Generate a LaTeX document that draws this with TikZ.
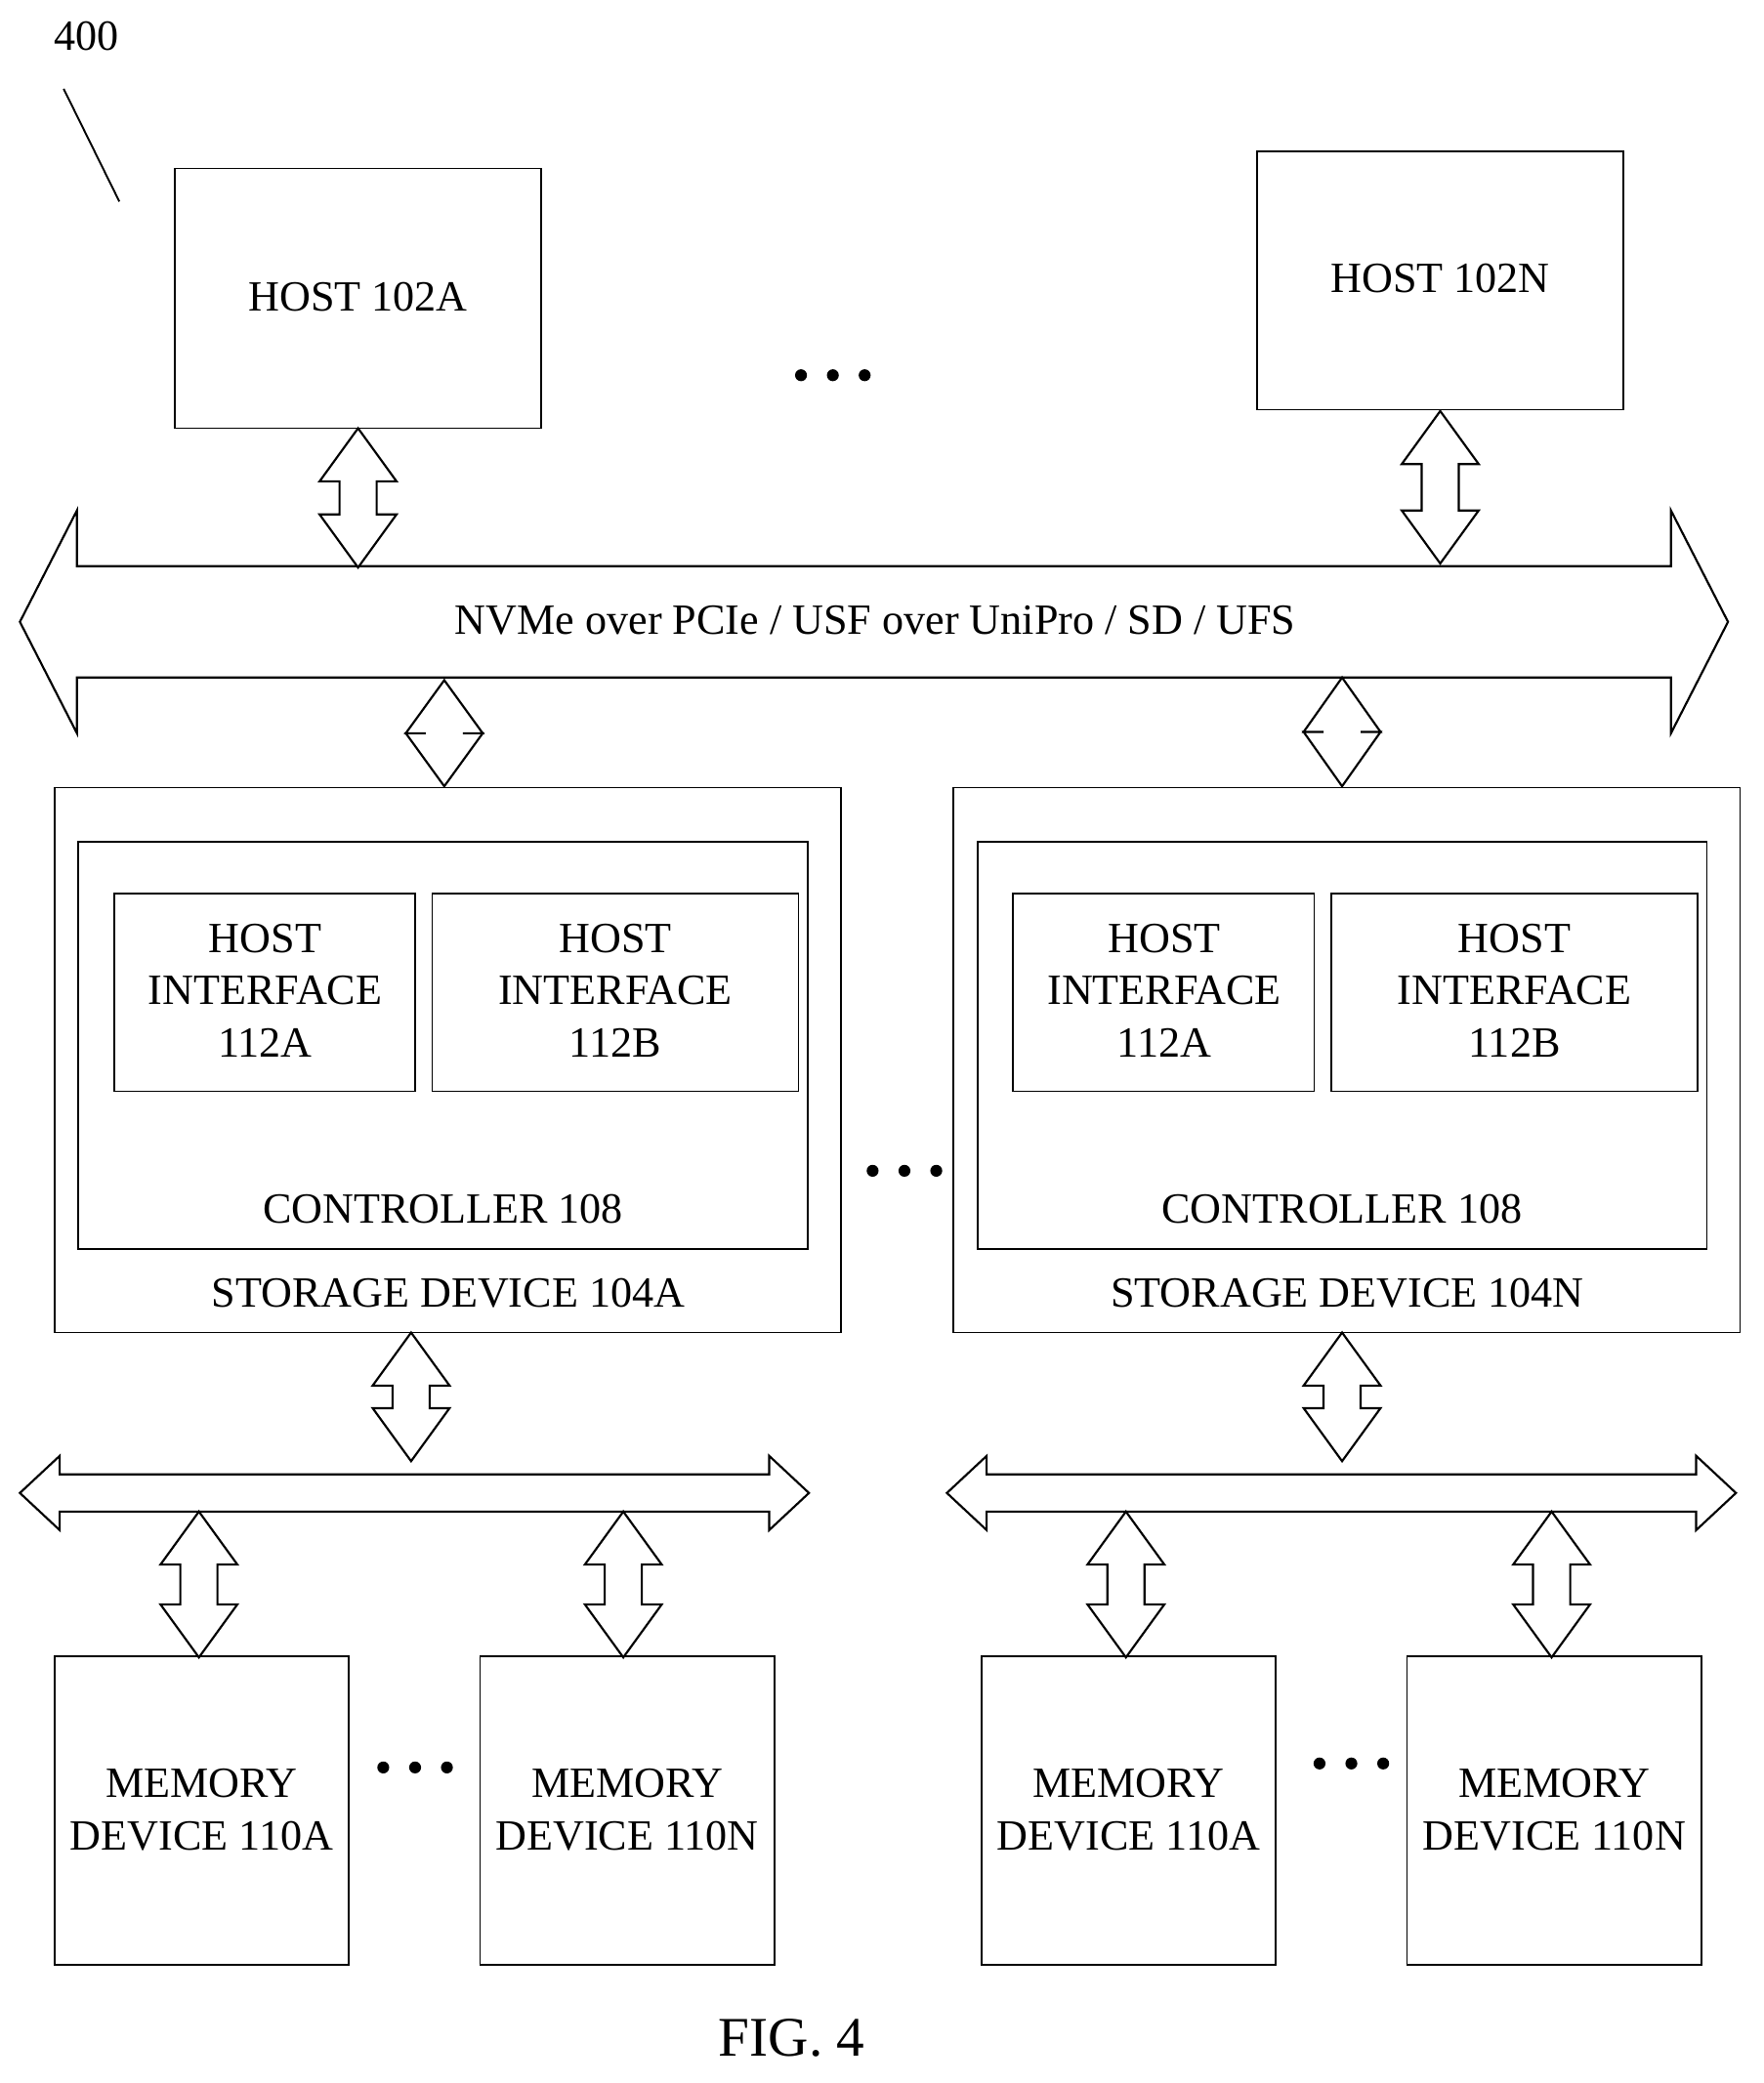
\documentclass[tikz,border=0pt]{standalone}
\usepackage{fontspec}
\setmainfont{Liberation Serif}
\usetikzlibrary{calc}
% vertical double arrow: x, top, bottom, head length
\newcommand\vdarrow[4]{%
  \draw[arrowline] (#1,#2) -- ++(29,#4) -- ++(-15,0) -- (#1+14,#3-#4) -- ++(15,0)
    -- (#1,#3) -- ++(-29,-#4) -- ++(15,0) -- (#1-14,#2+#4) -- ++(-15,0) -- cycle;}
% horizontal double arrow: left, right, centre y, half head, half stem, head length
\newcommand\hdarrow[6]{%
  \draw[arrowline] (#1,#3) -- (#1+#6,#3-#4) -- (#1+#6,#3-#5) -- (#2-#6,#3-#5)
    -- (#2-#6,#3-#4) -- (#2,#3) -- (#2-#6,#3+#4) -- (#2-#6,#3+#5)
    -- (#1+#6,#3+#5) -- (#1+#6,#3+#4) -- cycle;}
% three bold dots centred at x, y
\newcommand\threedots[2]{%
  \foreach \k in {-1,0,1}{\fill (#1+\k*24,#2) circle (4.5);}}
\begin{document}
\begin{tikzpicture}[x=0.02cm,y=-0.02cm,
    font=\fontsize{18.5}{22.5}\selectfont,
    arrowline/.style={line width=0.9pt, fill=white},
    box/.style={draw, line width=0.7pt},
    lbl/.style={align=center, inner sep=0pt}]
  \useasboundingbox (0,0) rectangle (1330,1571);
  % reference label
  \node[lbl] (ref) at (65,27) {400};
  \draw[line width=0.8pt] (48,67) -- (90,152);
  % hosts
  \draw[box] (132,127) rectangle (408,323);
  \node[lbl] (hostA) at (270,224) {HOST 102A};
  \draw[box] (948,114) rectangle (1224,309);
  \node[lbl] (hostN) at (1086,210) {HOST 102N};
  \threedots{628}{283}
  % main bus
  \hdarrow{15}{1303}{469}{84}{42}{43}
  \node[lbl] (bus) at (660,468) {NVMe over PCIe / USF over UniPro / SD / UFS};
  \vdarrow{270}{323}{428}{40}
  \vdarrow{1086}{310}{425}{40}
  \vdarrow{335}{513}{593}{40}
  \vdarrow{1012}{511}{593}{41}
  % storage devices
  \foreach \dx/\nm in {0/A,678/N}{
    \draw[box] (41+\dx,594) rectangle (634+\dx,1005);
    \draw[box] (59+\dx,635) rectangle (609+\dx,942);
    \draw[box] (86+\dx,674) rectangle (313+\dx,823);
    \draw[box] (326+\dx,674) rectangle (602+\dx,823);
    \node[lbl] (hia\nm) at (200+\dx,747) {HOST\\INTERFACE\\112A};
    \node[lbl] (hib\nm) at (464+\dx,747) {HOST\\INTERFACE\\112B};
    \node[lbl] (ctl\nm) at (334+\dx,912) {CONTROLLER 108};
    \node[lbl] (sd\nm) at (338+\dx,975) {STORAGE DEVICE 104\nm};
  }
  \threedots{682}{883}
  % memory side
  \vdarrow{310}{1005}{1102}{40}
  \vdarrow{1012}{1005}{1102}{40}
  \hdarrow{15}{610}{1126}{28}{14}{30}
  \hdarrow{714}{1309}{1126}{28}{14}{30}
  \foreach \x in {150,470,849,1170}{\vdarrow{\x}{1140}{1250}{40}}
  \foreach \x in {41,362,740,1061}{
    \draw[box] (\x,1249) rectangle (\x+222,1482);
  }
  \node[lbl] (memaA) at (152,1365) {MEMORY\\DEVICE 110A};
  \node[lbl] (memnA) at (473,1365) {MEMORY\\DEVICE 110N};
  \node[lbl] (memaN) at (851,1365) {MEMORY\\DEVICE 110A};
  \node[lbl] (memnN) at (1172,1365) {MEMORY\\DEVICE 110N};
  \threedots{313}{1333}
  \threedots{1019}{1330}
  % caption
  \node[lbl, font=\fontsize{24}{28}\selectfont] (fig) at (597,1537) {FIG. 4};
\end{tikzpicture}
\end{document}
